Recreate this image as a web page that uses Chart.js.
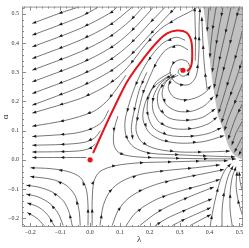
<!DOCTYPE html>
<html>
<head>
<meta charset="utf-8">
<script src="https://cdn.jsdelivr.net/npm/chart.js@4.4.1/dist/chart.umd.min.js"></script>
<style>
  html, body { margin: 0; padding: 0; background: #fff; }
</style>
</head>
<body>
<canvas id="grafico" width="249" height="248"></canvas>
<script>
// Ejes
const xTicks = [-0.2, -0.1, 0.0, 0.1, 0.2, 0.3, 0.4, 0.5];
const yTicks = [-0.2, -0.1, 0.0, 0.1, 0.2, 0.3, 0.4, 0.5];
const xRange = [-0.228, 0.512];
const yRange = [-0.23, 0.525];

// Trayectoria roja (λ, α) y sus extremos
const redPath = [[0.01,0.023],[0.05,0.113],[0.087,0.193],[0.127,0.273],[0.181,0.35],[0.224,0.403],[0.258,0.433],[0.291,0.443],[0.321,0.437],[0.338,0.41],[0.342,0.36],[0.338,0.32],[0.325,0.303]];
const redDots = [[0, 0], [0.311, 0.307]];

// Borde de la región gris (se rellena hacia arriba)
const grayEdge = [[0.378,0.53],[0.392,0.427],[0.409,0.273],[0.429,0.15],[0.445,0.107],[0.462,0.05],[0.479,0.02],[0.496,0.007],[0.515,0.0]];

// Líneas de flujo, cada una en el sentido del flujo
const upperLeftLines = [
  [[-0.040,0.523],[-0.100,0.503],[-0.194,0.467]],
  [[0.027,0.523],[-0.033,0.49],[-0.194,0.427]],
  [[0.090,0.523],[0.067,0.503],[-0.033,0.45],[-0.194,0.387]],
  [[0.141,0.523],[0.067,0.463],[-0.033,0.41],[-0.194,0.347]],
  [[0.177,0.523],[0.134,0.477],[0.067,0.423],[-0.033,0.37],[-0.194,0.307]],
  [[0.211,0.523],[0.201,0.51],[0.134,0.437],[0.067,0.383],[-0.033,0.33],[-0.194,0.267]],
  [[0.251,0.523],[0.201,0.47],[0.134,0.397],[0.067,0.343],[-0.033,0.29],[-0.194,0.227]],
  [[0.288,0.523],[0.268,0.503],[0.201,0.43],[0.134,0.357],[0.067,0.303],[-0.033,0.25],[-0.194,0.187]],
  [[0.36,0.523],[0.33,0.505],[0.295,0.487],[0.234,0.447],[0.184,0.393],[0.134,0.327],[0.09,0.28],[0.04,0.245],[-0.033,0.21],[-0.194,0.16]],
  [[0.12,0.29],[0.09,0.245],[0.055,0.2],[0.01,0.165],[-0.084,0.135],[-0.194,0.115]],
  [[0.062,0.17],[0.04,0.13],[0.0,0.105],[-0.06,0.09],[-0.194,0.08]],
  [[0.035,0.1],[0.015,0.075],[-0.02,0.06],[-0.09,0.053],[-0.194,0.05]],
  [[0.018,0.055],[0.0,0.04],[-0.035,0.031],[-0.1,0.028],[-0.194,0.027]],
  [[-0.012,0.008],[-0.1,0.008],[-0.194,0.008]]
];

const spiralLines = [
  [[0.315,0.307],[0.301,0.313],[0.295,0.3],[0.308,0.287],[0.328,0.293],[0.335,0.313],[0.325,0.337],[0.301,0.343],[0.278,0.33],[0.268,0.303],[0.278,0.273],[0.305,0.257],[0.335,0.26],[0.355,0.287],[0.362,0.333],[0.365,0.393],[0.365,0.46],[0.368,0.52]],
  [[0.295,0.29],[0.27,0.275],[0.262,0.245],[0.28,0.215],[0.32,0.205],[0.36,0.215],[0.39,0.235],[0.405,0.255]],
  [[0.288,0.293],[0.254,0.267],[0.241,0.227],[0.254,0.19],[0.291,0.167],[0.342,0.167],[0.385,0.187],[0.413,0.217]],
  [[0.282,0.29],[0.245,0.262],[0.226,0.22],[0.232,0.175],[0.265,0.143],[0.32,0.135],[0.375,0.145],[0.42,0.175]],
  [[0.275,0.293],[0.234,0.26],[0.211,0.213],[0.211,0.167],[0.234,0.127],[0.281,0.107],[0.342,0.107],[0.395,0.123],[0.426,0.147]],
  [[0.27,0.3],[0.222,0.268],[0.196,0.215],[0.192,0.16],[0.212,0.11],[0.26,0.085],[0.33,0.08],[0.395,0.09],[0.44,0.11]],
  [[0.261,0.287],[0.211,0.247],[0.184,0.193],[0.177,0.14],[0.198,0.093],[0.241,0.067],[0.308,0.057],[0.382,0.063],[0.449,0.083]],
  [[0.328,0.377],[0.295,0.393],[0.254,0.377],[0.224,0.337],[0.201,0.287],[0.177,0.227],[0.161,0.16],[0.154,0.1],[0.174,0.06],[0.224,0.037],[0.301,0.027],[0.385,0.027],[0.469,0.03]],
  [[0.19,0.3],[0.165,0.24],[0.148,0.17],[0.138,0.11],[0.143,0.07]],
  [[0.318,0.41],[0.288,0.42],[0.244,0.4],[0.208,0.36],[0.177,0.31],[0.151,0.253],[0.131,0.193],[0.117,0.133],[0.121,0.08],[0.147,0.043],[0.201,0.023],[0.301,0.017],[0.402,0.013],[0.486,0.01]],
  [[0.093,0.15],[0.08,0.1],[0.08,0.05],[0.1,0.022],[0.16,0.01],[0.268,0.006],[0.368,0.004],[0.489,0.003]],
  [[0.392,0.24],[0.385,0.3],[0.38,0.36],[0.377,0.42],[0.374,0.49]],
  [[0.352,0.34],[0.353,0.4],[0.352,0.46],[0.35,0.523]]
];

const grayLines = [
  [[0.398,0.523],[0.394,0.47],[0.392,0.44]],
  [[0.422,0.523],[0.412,0.46],[0.404,0.393],[0.401,0.35]],
  [[0.445,0.523],[0.432,0.453],[0.419,0.377],[0.409,0.3]],
  [[0.472,0.523],[0.455,0.443],[0.435,0.353],[0.415,0.245]],
  [[0.499,0.523],[0.479,0.443],[0.455,0.343],[0.422,0.21]],
  [[0.51,0.443],[0.489,0.36],[0.462,0.267],[0.43,0.16]],
  [[0.51,0.343],[0.489,0.277],[0.462,0.2],[0.44,0.127]],
  [[0.51,0.26],[0.486,0.2],[0.462,0.14],[0.45,0.1]],
  [[0.51,0.193],[0.486,0.14],[0.462,0.07]],
  [[0.51,0.133],[0.489,0.093],[0.474,0.05]],
  [[0.51,0.08],[0.495,0.05],[0.483,0.025]],
  [[0.51,0.04],[0.497,0.015]]
];

const lowerLeftLines = [
  [[-0.007,-0.225],[-0.007,-0.157],[-0.013,-0.1],[-0.033,-0.06],[-0.074,-0.04],[-0.134,-0.03],[-0.2,-0.027]],
  [[-0.033,-0.225],[-0.037,-0.173],[-0.05,-0.123],[-0.08,-0.087],[-0.127,-0.067],[-0.201,-0.057]],
  [[-0.06,-0.225],[-0.07,-0.18],[-0.09,-0.14],[-0.127,-0.11],[-0.174,-0.093],[-0.214,-0.087]],
  [[-0.09,-0.225],[-0.107,-0.183],[-0.134,-0.15],[-0.174,-0.127],[-0.214,-0.117]],
  [[-0.121,-0.225],[-0.141,-0.19],[-0.171,-0.163],[-0.211,-0.147]],
  [[-0.154,-0.225],[-0.178,-0.2],[-0.211,-0.18]]
];

const lowerRightLines = [
  [[0.007,-0.225],[0.007,-0.14],[0.013,-0.073],[0.033,-0.04],[0.084,-0.02],[0.167,-0.01],[0.268,-0.007],[0.368,-0.004],[0.462,-0.003]],
  [[0.033,-0.225],[0.044,-0.157],[0.067,-0.107],[0.107,-0.073],[0.167,-0.05],[0.251,-0.037],[0.352,-0.027],[0.435,-0.017]],
  [[0.074,-0.225],[0.094,-0.173],[0.127,-0.133],[0.174,-0.103],[0.234,-0.08],[0.318,-0.06],[0.402,-0.043],[0.449,-0.033]],
  [[0.121,-0.225],[0.147,-0.187],[0.184,-0.157],[0.234,-0.13],[0.301,-0.107],[0.385,-0.083],[0.435,-0.067]],
  [[0.167,-0.225],[0.201,-0.197],[0.241,-0.17],[0.295,-0.143],[0.355,-0.117],[0.415,-0.093]],
  [[0.218,-0.225],[0.258,-0.2],[0.308,-0.177],[0.362,-0.153],[0.409,-0.133]],
  [[0.275,-0.225],[0.318,-0.203],[0.368,-0.18],[0.405,-0.163]],
  [[0.335,-0.225],[0.375,-0.203],[0.405,-0.187]],
  [[0.402,-0.225],[0.412,-0.17],[0.425,-0.11],[0.438,-0.065],[0.452,-0.035],[0.472,-0.012]],
  [[0.442,-0.227],[0.442,-0.173],[0.449,-0.113],[0.462,-0.057],[0.479,-0.02]],
  [[0.476,-0.227],[0.469,-0.173],[0.469,-0.113],[0.476,-0.06],[0.489,-0.023]],
  [[0.51,-0.19],[0.496,-0.14],[0.489,-0.09],[0.492,-0.04]],
  [[0.51,-0.107],[0.502,-0.073],[0.499,-0.04]]
];

const toXY = pts => pts.map(p => ({ x: p[0], y: p[1] }));
const fmt = v => (v < 0 ? "\u2212" : "") + Math.abs(v).toFixed(1);

// Punta de flecha en (x, y) apuntando según (dx, dy)
function dibujarFlecha(ctx, x, y, dx, dy) {
    const len = Math.hypot(dx, dy) || 1;
    const ux = dx / len, uy = dy / len;
    const L = 3.6, W = 1.5;
    ctx.beginPath();
    ctx.moveTo(x, y);
    ctx.lineTo(x - ux * L - uy * W, y - uy * L + ux * W);
    ctx.lineTo(x - ux * L + uy * W, y - uy * L - ux * W);
    ctx.closePath();
    ctx.fill();
}

const flechasPlugin = {
    id: "flechas",
    afterDatasetDraw(chart, args) {
        const ds = chart.data.datasets[args.index];
        if (!ds.flechas) return;
        const pts = args.meta.data.map(p => ({ x: p.x, y: p.y }));
        const seg = [];
        let total = 0;
        for (let i = 1; i < pts.length; i++) {
            const dx = pts[i].x - pts[i - 1].x, dy = pts[i].y - pts[i - 1].y;
            const l = Math.hypot(dx, dy);
            seg.push({ i, dx, dy, l, s0: total });
            total += l;
        }
        const a = chart.chartArea, ctx = chart.ctx;
        ctx.save();
        ctx.beginPath();
        ctx.rect(a.left, a.top, a.right - a.left, a.bottom - a.top);
        ctx.clip();
        ctx.fillStyle = "#1a1a1a";
        for (let s = total - 0.5; s > 6; s -= 28) {
            const g = seg.find(q => s >= q.s0 && s <= q.s0 + q.l) || seg[seg.length - 1];
            const t = g.l ? (s - g.s0) / g.l : 0;
            dibujarFlecha(ctx, pts[g.i - 1].x + g.dx * t, pts[g.i - 1].y + g.dy * t, g.dx, g.dy);
        }
        ctx.restore();
    }
};

// Marco con marcas hacia dentro en los cuatro lados
const marcoPlugin = {
    id: "marco",
    afterDraw(chart) {
        const { ctx, chartArea: a, scales: { x, y } } = chart;
        ctx.save();
        ctx.strokeStyle = "#9a9a9a";
        ctx.lineWidth = 1;
        ctx.strokeRect(a.left + 0.5, a.top + 0.5, a.right - a.left - 1, a.bottom - a.top - 1);
        ctx.strokeStyle = "#8a8a8a";
        const marcas = (ticks, min, max) => {
            const paso = (ticks[1] - ticks[0]) / 5;
            const out = [];
            for (let v = ticks[0]; v >= min - 1e-9; v -= paso) out.push([v, false]);
            for (let v = ticks[0] + paso; v <= max + 1e-9; v += paso) out.push([v, false]);
            ticks.forEach(v => out.push([v, true]));
            return out;
        };
        ctx.beginPath();
        marcas(xTicks, xRange[0], xRange[1]).forEach(([v, mayor]) => {
            const px = Math.round(x.getPixelForValue(v)) + 0.5, l = mayor ? 4 : 2;
            ctx.moveTo(px, a.bottom); ctx.lineTo(px, a.bottom - l);
            ctx.moveTo(px, a.top); ctx.lineTo(px, a.top + l);
        });
        marcas(yTicks, yRange[0], yRange[1]).forEach(([v, mayor]) => {
            const py = Math.round(y.getPixelForValue(v)) + 0.5, l = mayor ? 4 : 2;
            ctx.moveTo(a.left, py); ctx.lineTo(a.left + l, py);
            ctx.moveTo(a.right, py); ctx.lineTo(a.right - l, py);
        });
        ctx.stroke();
        ctx.restore();
    }
};

const streamSets = [...upperLeftLines, ...spiralLines, ...grayLines, ...lowerLeftLines, ...lowerRightLines].map(l => ({
    data: toXY(l),
    showLine: true,
    pointRadius: 0,
    borderColor: "#4a4a4a",
    borderWidth: 0.75,
    tension: 0.3,
    fill: false,
    flechas: true,
    order: 5
}));

const fuenteEje = { family: "'Liberation Serif', serif", size: 6 };

new Chart(document.getElementById("grafico").getContext("2d"), {
    type: "scatter",
    data: {
        datasets: [
            { data: toXY(redDots), showLine: false, pointRadius: 2.6, pointBackgroundColor: "#e3141c", pointBorderWidth: 0, order: 0 },
            { data: toXY(redPath), showLine: true, pointRadius: 0, borderColor: "#e3141c", borderWidth: 2, tension: 0.35, fill: false, order: 1 },
            ...streamSets,
            { data: toXY(grayEdge), showLine: true, pointRadius: 0, borderWidth: 0, borderColor: "rgba(0,0,0,0)", backgroundColor: "#c0c0c0", fill: "end", tension: 0.2, order: 10 }
        ]
    },
    options: {
        responsive: false,
        animation: false,
        events: [],
        layout: { padding: { top: 1, right: 6, left: 0, bottom: 0 } },
        plugins: { legend: { display: false }, tooltip: { enabled: false } },
        scales: {
            x: {
                type: "linear",
                min: xRange[0],
                max: xRange[1],
                afterBuildTicks: ax => { ax.ticks = xTicks.map(v => ({ value: v })); },
                afterFit: ax => { ax.height = 21; },
                grid: { display: false, drawTicks: false },
                border: { display: false },
                ticks: { callback: fmt, font: fuenteEje, color: "#333", padding: 2, maxRotation: 0, autoSkip: false },
                title: { display: true, text: "\u2003\u2002\u03bb", font: { family: "'Liberation Serif', serif", size: 9 }, color: "#333", padding: { top: 0, bottom: 3 } }
            },
            y: {
                type: "linear",
                min: yRange[0],
                max: yRange[1],
                afterBuildTicks: ax => { ax.ticks = yTicks.map(v => ({ value: v })); },
                afterFit: ax => { ax.width = 22; },
                grid: { display: false, drawTicks: false },
                border: { display: false },
                ticks: { callback: fmt, font: fuenteEje, color: "#333", padding: 3, autoSkip: false },
                title: { display: true, text: "\u03b1", font: { family: "'Liberation Serif', serif", size: 9 }, color: "#333", padding: { top: 0, bottom: 0 } }
            }
        }
    },
    plugins: [flechasPlugin, marcoPlugin]
});
</script>
</body>
</html>
